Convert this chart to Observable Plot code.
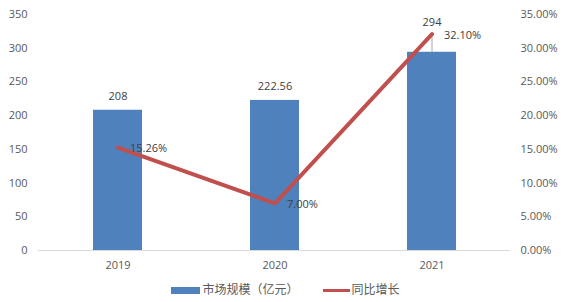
<!DOCTYPE html>
<html>
<head>
<meta charset="utf-8">
<script src="https://cdn.jsdelivr.net/npm/d3@7"></script>
<script src="https://cdn.jsdelivr.net/npm/@observablehq/plot@0.6"></script>
<style>
  body { margin: 0; background: #fff; font-family: "Open Sans", "Noto Sans CJK SC", sans-serif; }
  #chart svg { display: block; }
  .legend { height: 27px; display: flex; justify-content: center; align-items: center; font-size: 12px; color: #595959; gap: 24px; font-family: "Noto Sans CJK SC", sans-serif; margin-left: 8px; }
  .legend span.sw { display: inline-block; vertical-align: middle; margin-right: 2px; }
</style>
</head>
<body>
<div id="chart"></div>
<div class="legend">
  <div><span class="sw" style="width:29px;height:7px;background:#4F81BD"></span>市场规模（亿元）</div>
  <div><span class="sw" style="width:27px;height:3px;background:#C0504D"></span>同比增长</div>
</div>
<script>
const years = ["2019", "2020", "2021"];
const marketSize = [208, 222.56, 294];
const growthPct = [15.26, 7.00, 32.10];
const leftTicks = [0, 50, 100, 150, 200, 250, 300, 350];
const rightTicks = [0, 5, 10, 15, 20, 25, 30, 35];

const scaleFactor = 10; // right axis 35% maps to left 350
const rows = years.map((y, i) => ({year: y, size: marketSize[i], pct: growthPct[i], pctY: growthPct[i] * scaleFactor}));
const sizeLabel = d => String(d.size);
const pctLabel = d => d.pct.toFixed(2) + "%";

const fontFamily = "'Open Sans', sans-serif";
const plot = Plot.plot({
  width: 563,
  height: 275,
  marginTop: 14,
  marginBottom: 25,
  marginLeft: 38,
  marginRight: 53,
  style: {fontSize: "11px", fontFamily, color: "#595959", background: "#fff"},
  x: {domain: years, paddingInner: 0.69, paddingOuter: 0.345, label: null},
  y: {domain: [0, 350], label: null},
  marks: [
    Plot.axisY({ticks: leftTicks, tickSize: 0, tickPadding: 11, label: null, tickFormat: d => String(d)}),
    Plot.axisY({anchor: "right", ticks: rightTicks.map(t => t * scaleFactor), tickSize: 0, tickPadding: 10, textAnchor: "start", label: null, tickFormat: d => (d / scaleFactor).toFixed(2) + "%"}),
    Plot.axisX({tickSize: 0, tickPadding: 11, label: null}),
    Plot.barY(rows, {x: "year", y: "size", fill: "#4F81BD"}),
    Plot.ruleY([0], {stroke: "#D9D9D9", strokeWidth: 1}),
    Plot.ruleX(rows.filter(d => d.year === "2021"), {x: "year", y1: "size", y2: "size", insetTop: -15, stroke: "#A6A6A6", strokeWidth: 1}),
    Plot.line(rows, {x: "year", y: "pctY", stroke: "#C0504D", strokeWidth: 4, strokeLinejoin: "miter"}),
    Plot.text(rows.filter(d => d.year !== "2021"), {x: "year", y: "size", text: sizeLabel, dy: -14, fill: "#404040", fontSize: 11}),
    Plot.text(rows.filter(d => d.year === "2021"), {x: "year", y: "size", text: sizeLabel, dy: -30, fill: "#404040", fontSize: 11}),
    Plot.text(rows, {x: "year", y: "pctY", text: pctLabel, dx: 12, dy: 1, textAnchor: "start", fill: "#404040", fontSize: 11})
  ]
});
document.getElementById("chart").appendChild(plot);
</script>
</body>
</html>
